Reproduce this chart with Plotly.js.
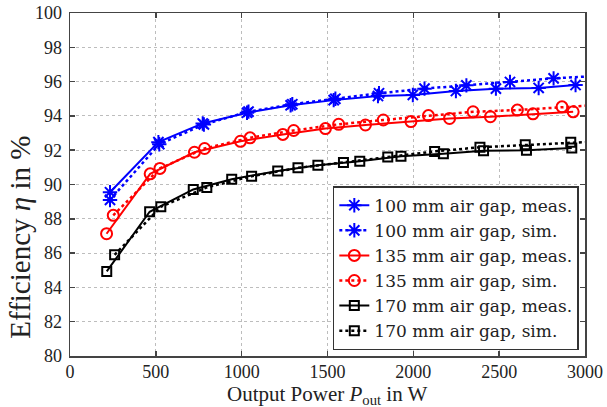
<!DOCTYPE html>
<html>
<head>
<meta charset="utf-8">
<script src="https://cdn.plot.ly/plotly-3.0.1.min.js"></script>
<style>html,body{margin:0;padding:0;background:#fff;}#chart{width:607px;height:407px;}</style>
</head>
<body>
<div id="chart"></div>
<script>
// Output power (W) and efficiency (%)
const blueMeasX = [233, 515, 773, 1031, 1285, 1536, 1794, 1997, 2248, 2481, 2730, 2945];
const blueMeasY = [89.55, 92.47, 93.56, 94.18, 94.62, 94.92, 95.16, 95.22, 95.45, 95.59, 95.63, 95.80];
const blueSimX  = [233, 520, 780, 1040, 1295, 1546, 1800, 2065, 2309, 2563, 2817, 3070];
const blueSimY  = [89.1, 92.35, 93.5, 94.25, 94.68, 95.0, 95.32, 95.59, 95.78, 95.98, 96.19, 96.33];

const redMeasX = [213, 467, 725, 993, 1240, 1488, 1721, 1986, 2211, 2449, 2697, 2931];
const redMeasY = [87.13, 90.62, 91.88, 92.52, 92.92, 93.26, 93.47, 93.67, 93.85, 93.95, 94.12, 94.24];
const redSimX  = [252, 524, 784, 1049, 1303, 1565, 1825, 2088, 2348, 2606, 2866, 3125];
const redSimY  = [88.2, 90.94, 92.1, 92.72, 93.15, 93.51, 93.76, 94.02, 94.24, 94.34, 94.53, 94.67];

const blackMeasX = [214, 464, 718, 942, 1210, 1444, 1688, 1928, 2175, 2409, 2659, 2923];
const blackMeasY = [84.93, 88.41, 89.71, 90.31, 90.79, 91.12, 91.35, 91.64, 91.80, 91.97, 91.99, 92.13];
const blackSimX  = [260, 529, 797, 1058, 1328, 1593, 1851, 2124, 2388, 2652, 2917, 3180];
const blackSimY  = [85.9, 88.70, 89.83, 90.48, 90.97, 91.28, 91.61, 91.93, 92.17, 92.32, 92.46, 92.56];

const seriesNames = [
  '100 mm air gap, meas.', '100 mm air gap, sim.',
  '135 mm air gap, meas.', '135 mm air gap, sim.',
  '170 mm air gap, meas.', '170 mm air gap, sim.'
];

const xTicks = [0, 500, 1000, 1500, 2000, 2500, 3000];
const yTicks = [80, 82, 84, 86, 88, 90, 92, 94, 96, 98, 100];

const xTitle = 'Output Power <i>P</i><sub>out</sub> in W';
const yTitle = 'Efficiency <i>η</i> in %';

function tr(x, y, name, color, dash, symbol, size) {
  return {
    x: x, y: y, name: name, type: 'scatter', mode: 'lines+markers',
    line: {color: color, width: dash === 'solid' ? 2 : 2.5, dash: dash},
    marker: {symbol: symbol, size: size, color: color, line: {color: color, width: 2}}
  };
}

const data = [
  tr(blueMeasX, blueMeasY, seriesNames[0], '#0000ff', 'solid', 'asterisk-open', 12),
  tr(blueSimX, blueSimY, seriesNames[1], '#0000ff', 'dot', 'asterisk-open', 12),
  tr(redMeasX, redMeasY, seriesNames[2], '#ff0000', 'solid', 'circle-open', 11),
  tr(redSimX, redSimY, seriesNames[3], '#ff0000', 'dot', 'circle-open', 11),
  tr(blackMeasX, blackMeasY, seriesNames[4], '#000000', 'solid', 'square-open', 9),
  tr(blackSimX, blackSimY, seriesNames[5], '#000000', 'dot', 'square-open', 9)
];

const axisCommon = {
  showline: true, linecolor: '#444', linewidth: 1.5, mirror: 'allticks',
  ticks: 'inside', ticklen: 5, tickwidth: 1.5, tickcolor: '#444',
  showgrid: true, gridcolor: '#bdbdbd', griddash: 'dot', gridwidth: 1,
  zeroline: false, tickfont: {family: 'Liberation Serif', size: 18, color: '#222'}
};

const layout = {
  width: 607, height: 407,
  margin: {l: 70, r: 22, t: 13, b: 51},
  paper_bgcolor: '#fff', plot_bgcolor: '#fff',
  font: {family: 'Liberation Serif', color: '#222'},
  showlegend: true,
  xaxis: Object.assign({}, axisCommon, {
    range: [0, 3000], tickvals: xTicks, ticktext: xTicks.map(String),
    ticklabelstandoff: -1
  }),
  yaxis: Object.assign({}, axisCommon, {
    range: [80, 100], tickvals: yTicks, ticktext: yTicks.map(String),
    ticklabelstandoff: 3
  }),
  legend: {
    x: 0.988, y: 0.017, xanchor: 'right', yanchor: 'bottom',
    bgcolor: '#fff', bordercolor: '#333', borderwidth: 1.5,
    font: {family: 'DejaVu Serif', size: 17, color: '#222'},
    tracegroupgap: 0
  },
  annotations: [{
    text: yTitle, xref: 'paper', yref: 'paper',
    x: -0.097, y: 0.345, textangle: -90, showarrow: false,
    xanchor: 'center', yanchor: 'middle',
    font: {family: 'Liberation Serif', size: 29, color: '#222'}
  }, {
    text: xTitle, xref: 'paper', yref: 'paper',
    x: 0.5, y: -0.114, showarrow: false,
    xanchor: 'center', yanchor: 'middle', borderpad: 0,
    font: {family: 'Liberation Serif', size: 21, color: '#222'}
  }]
};

Plotly.newPlot('chart', data, layout, {displayModeBar: false, staticPlot: true});
</script>
</body>
</html>
